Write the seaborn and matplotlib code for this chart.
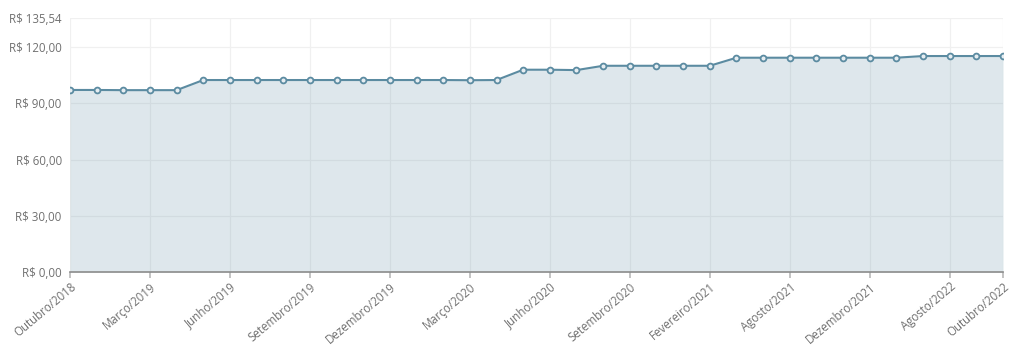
import matplotlib
matplotlib.use("Agg")
import matplotlib.pyplot as plt
import seaborn as sns
import pandas as pd
import numpy as np

# Data
periodos = [
    "Outubro/2018", "", "", "Março/2019", "", "", "Junho/2019", "", "",
    "Setembro/2019", "", "", "Dezembro/2019", "", "", "Março/2020", "", "",
    "Junho/2020", "", "", "Setembro/2020", "", "", "Fevereiro/2021", "", "",
    "Agosto/2021", "", "", "Dezembro/2021", "", "", "Agosto/2022", "", "Outubro/2022",
]
precos = [
    97.1, 97.1, 97.0, 97.0, 97.0,
    102.4, 102.4, 102.4, 102.4, 102.4, 102.4, 102.4, 102.4, 102.4, 102.4, 102.3, 102.4,
    107.9, 107.9, 107.7,
    110.0, 110.0, 110.0, 110.0, 110.0,
    114.3, 114.3, 114.3, 114.3, 114.3, 114.3, 114.3,
    115.2, 115.2, 115.2, 115.2,
]
y_ticks = [0, 30, 60, 90, 120, 135.54]
y_tick_labels = ["R$ 0,00", "R$ 30,00", "R$ 60,00", "R$ 90,00", "R$ 120,00", "R$ 135,54"]

df = pd.DataFrame({"idx": range(len(precos)), "preco": precos, "periodo": periodos})

sns.set_theme(style="white")
plt.rcParams["font.family"] = ["Open Sans", "DejaVu Sans"]
plt.rcParams["text.parse_math"] = False

fig = plt.figure(figsize=(10.24, 3.54), dpi=100)
ax = fig.add_axes([70 / 1024, 82 / 354, 933 / 1024, (272 - 17.9) / 354])

line_color = "#5b8ba1"
ax.fill_between(df["idx"], df["preco"], 0, color="#5b8ba1", alpha=0.2,
                linewidth=0, zorder=1)
sns.lineplot(data=df, x="idx", y="preco", ax=ax, color=line_color, linewidth=1.5,
             marker="o", markersize=4.2, markerfacecolor="#e6edf1",
             markeredgecolor=line_color, markeredgewidth=1.3, zorder=3)

ax.set_xlim(0, len(precos) - 1)
ax.set_ylim(0, 135.54)

tick_idx = [i for i, p in enumerate(periodos) if p]
ax.set_xticks(tick_idx)
ax.set_xticklabels([periodos[i] for i in tick_idx], rotation=40, ha="right",
                   rotation_mode="anchor", color="#707070", fontsize=8.3)
ax.set_yticks(y_ticks)
ax.set_yticklabels(y_tick_labels, color="#707070", fontsize=8.3)

ax.grid(True, color="#f0f0f0", linewidth=0.9, zorder=0)
ax.set_axisbelow(True)
for s in ["top", "right", "left"]:
    ax.spines[s].set_visible(False)
ax.spines["bottom"].set_color("#8c8c8c")
ax.spines["bottom"].set_linewidth(1.2)
ax.spines["bottom"].set_zorder(4)
ax.tick_params(axis="x", length=4, color="#bbbbbb", pad=2, bottom=True)
ax.tick_params(axis="y", length=0, pad=6)
ax.set_xlabel("")
ax.set_ylabel("")

fig.savefig("out.png", dpi=100, facecolor="white")
